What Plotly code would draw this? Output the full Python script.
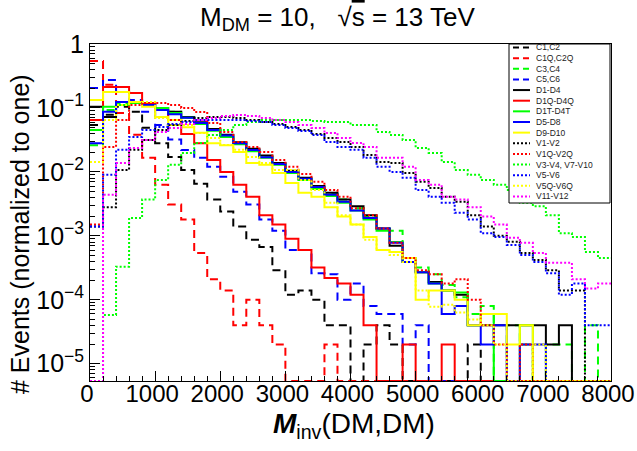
import math
import plotly.graph_objects as go

# ---------------- data (normalized histograms, 40 bins of 200 GeV) ----------------
bin_edges = [200 * i for i in range(41)]

C1_C2 = [0.054, 0.078, 0.104, 0.087, 0.049, 0.028, 0.0171, 0.0107, 0.0065, 0.0037,
         0.0024, 0.0014, 0.00087, 0.00067, 0.00029, 0.00012, 0.00014, 0.0001, 4e-5, 4e-5,
         0, 2e-5, 4e-5, 2e-5, 0, 0, 0, 0, 0, 2e-5,
         0, 0, 0, 0, 0, 0, 0, 0, 0, 0]
C1Q_C2Q = [0.54, 0.23, 0.083, 0.038, 0.0166, 0.0063, 0.0031, 0.0018, 0.00054, 0.00021,
           0.00014, 4e-5, 1e-4, 4e-5, 2e-5, 0, 0, 0, 2e-5, 0,
           0, 0, 0, 0, 0, 0, 0, 0, 0, 0,
           0, 0, 0, 0, 0, 0, 0, 0, 0, 0]
C3_C4 = [0.026, 0.093, 0.120, 0.124, 0.115, 0.100, 0.087, 0.070, 0.058, 0.045,
         0.037, 0.028, 0.022, 0.0171, 0.0133, 0.010, 0.0078, 0.006, 0.0045, 0.0037,
         0.0027, 0.002, 0.0013, 0.0012, 0.00045, 0.00032, 0.00025, 0.00017, 0.00011, 6e-5,
         8e-5, 0, 4e-5, 2e-5, 0, 2e-5, 2e-5, 0, 4e-5, 0]
C5_C6 = [0.205, 0.274, 0.178, 0.133, 0.087, 0.054, 0.032, 0.022, 0.0166, 0.012,
         0.0084, 0.0049, 0.0031, 0.0018, 0.0012, 0.0006, 0.0006, 0.00026, 0.00025, 0.0001,
         0.00018, 8e-5, 6e-5, 6e-5, 2e-5, 4e-5, 0, 0, 0, 0,
         0, 0, 0, 0, 0, 0, 0, 0, 0, 0]
D1_D4 = [0.104, 0.072, 0.111, 0.124, 0.120, 0.100, 0.087, 0.072, 0.060, 0.047,
         0.038, 0.029, 0.023, 0.018, 0.0138, 0.0104, 0.0081, 0.0060, 0.0047, 0.0037,
         0.0029, 0.0021, 0.0013, 0.0007, 0.00039, 0.00027, 0.00019, 0.00014, 0.00012, 4e-5,
         4e-5, 4e-5, 4e-5, 4e-5, 4e-5, 2e-5, 4e-5, 0, 0, 0]
D1Q_D4Q = [0.065, 0.213, 0.213, 0.171, 0.120, 0.093, 0.065, 0.039, 0.028, 0.0154,
           0.010, 0.0063, 0.0041, 0.0021, 0.0015, 0.0009, 0.0006, 0.00032, 0.00022, 0.00018,
           0.00012, 4e-5, 0, 0, 2e-5, 0, 0, 2e-5, 0, 0,
           0, 0, 0, 0, 0, 0, 0, 0, 0, 0]
D1T_D4T = [0.045, 0.104, 0.111, 0.120, 0.111, 0.100, 0.083, 0.070, 0.056, 0.044,
           0.035, 0.027, 0.021, 0.0166, 0.0129, 0.0096, 0.0075, 0.0054, 0.0042, 0.0033,
           0.0025, 0.0018, 0.0012, 0.0008, 0.00039, 0.00027, 0.00018, 0.00014, 0.00013, 4e-5,
           6e-5, 0, 0, 4e-5, 0, 0, 0, 0, 0, 0]
D5_D8 = [0.028, 0.087, 0.124, 0.124, 0.111, 0.093, 0.080, 0.070, 0.058, 0.045,
         0.037, 0.028, 0.022, 0.017, 0.0133, 0.010, 0.0078, 0.0058, 0.0044, 0.0034,
         0.0025, 0.0019, 0.0013, 0.00078, 0.00039, 0.00027, 0.00018, 6e-5, 8e-5, 4e-5,
         2e-5, 4e-5, 0, 2e-5, 2e-5, 0, 0, 0, 0, 0]
D9_D10 = [0.133, 0.178, 0.178, 0.124, 0.104, 0.072, 0.054, 0.050, 0.041, 0.028,
          0.026, 0.0205, 0.0138, 0.0129, 0.0096, 0.0067, 0.0047, 0.0041, 0.0028, 0.0020,
          0.0015, 0.00096, 0.0006, 0.00056, 0.00045, 0.0001, 0.00014, 0.00014, 0.0001, 4e-5,
          6e-5, 6e-5, 2e-5, 4e-5, 0, 0, 0, 0, 0, 0]
V1_V2 = [0.0014, 0.0028, 0.0107, 0.0221, 0.0316, 0.0453, 0.0542, 0.0626, 0.0698, 0.0723,
         0.0723, 0.0698, 0.0649, 0.0604, 0.0562, 0.0505, 0.0453, 0.0393, 0.034, 0.0294,
         0.0246, 0.0184, 0.0143, 0.0138, 0.0096, 0.0070, 0.0056, 0.0041, 0.0034, 0.0021,
         0.0014, 0.001, 0.00081, 0.00054, 0.00042, 0.00029, 0.00014, 0.00014, 0, 0]
V1Q_V2Q = [0.0015, 0.0246, 0.0649, 0.111, 0.120, 0.120, 0.111, 0.100, 0.0866, 0.0583,
           0.0422, 0.0294, 0.0246, 0.0205, 0.0154, 0.012, 0.0093, 0.007, 0.0052, 0.0041,
           0.0027, 0.0021, 0.0013, 0.00078, 0.00045, 0.00029, 0.00025, 0.00018, 0.00021, 0.0001,
           4e-5, 2e-5, 0, 2e-5, 0, 0, 0, 0, 0, 0]
V3_V4_V7_V10 = [0, 5.8e-5, 0.00033, 0.0019, 0.0037, 0.0075, 0.0129, 0.0198, 0.0284, 0.0379,
                0.0453, 0.0542, 0.0604, 0.0649, 0.0649, 0.0649, 0.0649, 0.0626, 0.0604, 0.0604,
                0.0542, 0.0542, 0.0422, 0.0379, 0.0316, 0.0237, 0.0198, 0.0143, 0.0107, 0.009,
                0.0075, 0.0063, 0.0052, 0.0033, 0.0029, 0.0021, 0.0011, 0.00096, 0.00056, 0.00045]
V5_V6 = [0.0014, 0.009, 0.0221, 0.0352, 0.0453, 0.0505, 0.0562, 0.0604, 0.0649, 0.0649,
         0.0649, 0.0649, 0.0626, 0.0604, 0.0542, 0.0487, 0.0437, 0.0379, 0.0294, 0.0246,
         0.0221, 0.0166, 0.012, 0.01, 0.0081, 0.0052, 0.0041, 0.0033, 0.0023, 0.0018,
         0.0011, 0.00096, 0.00072, 0.0005, 0.00039, 0.00026, 0.00012, 0.00018, 4e-5, 4e-5]
V5Q_V6Q = [0.0143, 0.0649, 0.111, 0.124, 0.124, 0.0698, 0.0649, 0.0542, 0.0407, 0.034,
           0.0264, 0.0221, 0.0171, 0.0138, 0.0107, 0.0107, 0.0075, 0.0052, 0.0033, 0.0021,
           0.0015, 0.00087, 0.0006, 0.0005, 0.00039, 0.00014, 7.8e-5, 8.4e-5, 6.3e-5, 4.9e-5,
           4e-5, 2e-5, 0, 0, 2e-5, 0, 0, 0, 0, 0]
V11_V12 = [0, 0.0044, 0.0138, 0.0237, 0.0316, 0.0422, 0.0487, 0.0562, 0.0649, 0.0698,
           0.075, 0.0778, 0.075, 0.0698, 0.0649, 0.0604, 0.0542, 0.0487, 0.0407, 0.034,
           0.0284, 0.0246, 0.0166, 0.0166, 0.012, 0.0075, 0.0063, 0.0041, 0.0037, 0.0028,
           0.002, 0.0015, 0.00093, 0.00078, 0.00054, 0.00038, 0.00038, 0.00021, 0.00015, 0.00018]

series_labels = ["C1,C2", "C1Q,C2Q", "C3,C4", "C5,C6", "D1-D4", "D1Q-D4Q", "D1T-D4T",
                 "D5-D8", "D9-D10", "V1-V2", "V1Q-V2Q", "V3-V4, V7-V10", "V5-V6",
                 "V5Q-V6Q", "V11-V12"]
series_values = [C1_C2, C1Q_C2Q, C3_C4, C5_C6, D1_D4, D1Q_D4Q, D1T_D4T, D5_D8, D9_D10,
                 V1_V2, V1Q_V2Q, V3_V4_V7_V10, V5_V6, V5Q_V6Q, V11_V12]

x_ticks = [0, 1000, 2000, 3000, 4000, 5000, 6000, 7000, 8000]
y_ticks = [1e-5, 1e-4, 1e-3, 1e-2, 1e-1, 1]
y_ticktext = ["10<sup>\u22125</sup>", "10<sup>\u22124</sup>", "10<sup>\u22123</sup>",
              "10<sup>\u22122</sup>", "10<sup>\u22121</sup>", "1"]

# ---------------- styles ----------------
DASH = "8px,5px"
DOT = "2px,2px"
styles = [
    ("#000000", DASH), ("#ff0000", DASH), ("#00ff00", DASH), ("#0000ff", DASH),
    ("#000000", "solid"), ("#ff0000", "solid"), ("#00ff00", "solid"), ("#0000ff", "solid"),
    ("#ffff00", "solid"),
    ("#000000", DOT), ("#ff0000", DOT), ("#00ff00", DOT), ("#0000ff", DOT),
    ("#ffff00", DOT), ("#ff00ff", DOT),
]

# ---------------- geometry ----------------
W, H = 637, 451
L, R, T, B = 90, 26, 44, 70
LOG_MIN, LOG_MAX = -5.27, 0.0
YFLOOR = 10 ** LOG_MIN
FONT = "Liberation Sans, Arial, Helvetica, sans-serif"

def px2paper_x(px):
    return (px - L) / (W - L - R)

def px2paper_y(py):
    return (H - B - py) / (H - T - B)

fig = go.Figure()
for name, vals, (col, dash) in zip(series_labels, series_values, styles):
    yv = [v if v > 0 else YFLOOR for v in vals]
    fig.add_trace(go.Scatter(
        x=bin_edges, y=yv + [yv[-1]], mode="lines", name=name,
        line=dict(color=col, width=2, dash=dash, shape="hv"),
        showlegend=False, hoverinfo="skip", cliponaxis=True))

y_minor = [k * 10 ** e for e in range(-6, 0) for k in range(2, 10)
           if LOG_MIN <= math.log10(k * 10 ** e) <= LOG_MAX]

fig.update_layout(
    width=W, height=H, margin=dict(l=L, r=R, t=T, b=B, autoexpand=False),
    paper_bgcolor="white", plot_bgcolor="white",
    font=dict(family=FONT, color="black"),
    showlegend=False,
    xaxis=dict(range=[0, 8000], showgrid=False, zeroline=False, automargin=False,
               showline=True, linecolor="black", linewidth=1, mirror=True,
               ticks="inside", ticklen=10, tickcolor="black",
               tickmode="array", tickvals=x_ticks, ticktext=[str(v) for v in x_ticks],
               tickfont=dict(size=24, family=FONT),
               ticklabeloverflow="allow", ticklabelstandoff=-9, ticklabelshift=-3,
               minor=dict(ticks="inside", ticklen=5, tickcolor="black",
                          tickmode="array", tickvals=list(range(0, 8001, 200)))),
    yaxis=dict(type="log", range=[LOG_MIN, LOG_MAX], showgrid=False, zeroline=False,
               automargin=False,
               showline=True, linecolor="black", linewidth=1, mirror=True,
               ticks="inside", ticklen=10, tickcolor="black",
               tickmode="array", tickvals=y_ticks, ticktext=y_ticktext,
               tickfont=dict(size=25, family=FONT), ticklabeloverflow="allow",
               minor=dict(ticks="inside", ticklen=5, tickcolor="black",
                          tickmode="array", tickvals=y_minor)),
)

annotations = []
# title
annotations.append(dict(
    text="M<sub>DM</sub> = 10,   \u221a<span style='text-decoration:overline'>s</span> = 13 TeV",
    x=px2paper_x(337), y=px2paper_y(18), xref="paper", yref="paper",
    xanchor="center", yanchor="middle", showarrow=False,
    font=dict(size=26, family=FONT)))
# x title
annotations.append(dict(
    text="<b><i>M</i></b><sub>inv</sub>(DM,DM)",
    x=px2paper_x(354), y=px2paper_y(425), xref="paper", yref="paper",
    xanchor="center", yanchor="middle", showarrow=False,
    font=dict(size=28, family=FONT)))
# y title
annotations.append(dict(
    text="# Events (normalized to one)",
    x=px2paper_x(20), y=px2paper_y(234), xref="paper", yref="paper",
    xanchor="center", yanchor="middle", showarrow=False, textangle=-90,
    font=dict(size=25, family=FONT)))

shapes = []
# legend box
LX0, LX1, LY0, LY1 = 509, 610, 44, 203
shapes.append(dict(type="rect", xref="paper", yref="paper",
                   x0=px2paper_x(LX0), x1=px2paper_x(LX1),
                   y0=px2paper_y(LY1), y1=px2paper_y(LY0),
                   line=dict(color="black", width=1), fillcolor="white", layer="above"))
first_y, step = 47.5, 10.64
for i, (name, (col, dash)) in enumerate(zip(series_labels, styles)):
    yc = first_y + i * step
    ldash = {"8px,5px": "6px,4px", "2px,2px": "2px,2px"}.get(dash, dash)
    shapes.append(dict(type="line", xref="paper", yref="paper",
                       x0=px2paper_x(513), x1=px2paper_x(530),
                       y0=px2paper_y(yc), y1=px2paper_y(yc),
                       line=dict(color=col, width=2, dash=ldash), layer="above"))
    annotations.append(dict(text=name, x=px2paper_x(534), y=px2paper_y(yc),
                            xref="paper", yref="paper", xanchor="left", yanchor="middle",
                            showarrow=False, font=dict(size=8.5, family=FONT, color="#222222")))

fig.update_layout(annotations=annotations, shapes=shapes)
fig.write_html("out.html")
